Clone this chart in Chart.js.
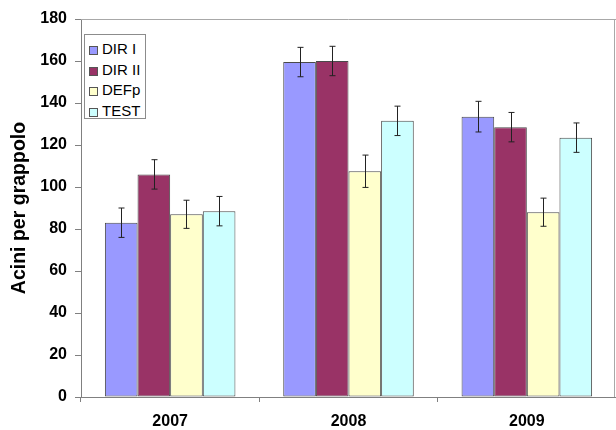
<!DOCTYPE html>
<html>
<head>
<meta charset="utf-8">
<script src="https://cdn.jsdelivr.net/npm/chart.js@4/dist/chart.umd.min.js"></script>
<style>
  body { margin: 0; background: #fff; }
  #wrap { position: relative; width: 616px; height: 430px; }
  #legend {
    position: absolute; left: 84px; top: 34px; width: 62px; height: 85px;
    border: 1px solid #8c8c8c; background: #fff;
    font: 15px "Liberation Sans", Arial, sans-serif; color: #000;
    padding-top: 4px; box-sizing: border-box;
  }
  .item { height: 20.5px; line-height: 20.5px; white-space: nowrap; }
  .sw { display: inline-block; width: 9px; height: 9px; margin: 0 4px 0 4px;
        border: 1px solid #555; vertical-align: -1px; box-sizing: border-box; }
</style>
</head>
<body>
<div id="wrap">
  <canvas id="barChart" width="616" height="430"></canvas>
  <div id="legend"></div>
</div>
<script>
// data
const years = ['2007', '2008', '2009'];
const seriesNames = ['DIR I', 'DIR II', 'DEFp', 'TEST'];
const dirI   = [83, 159.5, 133.5];
const dirII  = [106, 160, 128.5];
const defp   = [87, 107.5, 88];
const test   = [88.5, 131.5, 123.5];
const errDirI  = [7, 7, 7.3];
const errDirII = [7, 7, 7];
const errDefp  = [6.7, 7.7, 6.7];
const errTest  = [7, 7, 7];
const yTicks = [0, 20, 40, 60, 80, 100, 120, 140, 160, 180];

const colors = ['#9999ff', '#993366', '#ffffcc', '#ccffff'];
const values = [dirI, dirII, defp, test];
const errors = [errDirI, errDirII, errDefp, errTest];

const fontFam = '"Liberation Sans", Arial, sans-serif';

// error bars drawn from the y scale
const errorBars = {
  id: 'errorBars',
  afterDatasetsDraw(chart) {
    const ctx = chart.ctx;
    const y = chart.scales.y;
    ctx.save();
    ctx.strokeStyle = '#222';
    ctx.lineWidth = 1;
    chart.data.datasets.forEach((ds, i) => {
      const meta = chart.getDatasetMeta(i);
      meta.data.forEach((bar, j) => {
        const v = ds.data[j], e = errors[i][j];
        const x = Math.round(bar.x) + 0.5;
        const top = y.getPixelForValue(v + e);
        const bot = y.getPixelForValue(v - e);
        ctx.beginPath();
        ctx.moveTo(x, top); ctx.lineTo(x, bot);
        ctx.moveTo(x - 3, top); ctx.lineTo(x + 3, top);
        ctx.moveTo(x - 3, bot); ctx.lineTo(x + 3, bot);
        ctx.stroke();
      });
    });
    ctx.restore();
  }
};

// plot frame (top and right edge)
const frame = {
  id: 'frame',
  afterDraw(chart) {
    const {ctx, chartArea: a} = chart;
    ctx.save();
    ctx.lineWidth = 1;
    ctx.strokeStyle = '#a8a8a8';
    ctx.beginPath();
    ctx.moveTo(a.left, a.top + 0.5); ctx.lineTo(a.right, a.top + 0.5);
    ctx.moveTo(a.right - 1.5, a.top); ctx.lineTo(a.right - 1.5, a.bottom);
    ctx.stroke();
    ctx.restore();
  }
};

new Chart(document.getElementById('barChart'), {
  type: 'bar',
  data: {
    labels: years,
    datasets: seriesNames.map((name, i) => ({
      label: name,
      data: values[i],
      backgroundColor: colors[i],
      borderColor: '#4a4a4a',
      borderWidth: 1,
      borderSkipped: false
    }))
  },
  options: {
    responsive: false,
    animation: false,
    layout: { padding: { top: 19, right: 0, left: 0, bottom: 0 } },
    categoryPercentage: 0.732,
    barPercentage: 1,
    plugins: { legend: { display: false }, tooltip: { enabled: false } },
    scales: {
      x: {
        afterFit: (s) => { s.height = 33; },
        grid: {
          offset: true,
          drawOnChartArea: false,
          tickLength: 5,
          color: (c) => (c.index === undefined ? 'rgba(0,0,0,0)' : '#808080')
        },
        border: { color: '#808080' },
        ticks: { color: '#000', padding: 10, font: { family: fontFam, size: 16, weight: 'bold' } }
      },
      y: {
        min: 0, max: 180,
        afterFit: (s) => { s.width = 81; },
        afterBuildTicks: (s) => { s.ticks = yTicks.map(v => ({ value: v })); },
        grid: { drawOnChartArea: false, tickLength: 6, color: '#808080' },
        border: { color: '#808080' },
        ticks: { color: '#000', padding: 8, font: { family: fontFam, size: 16, weight: 'bold' } },
        title: {
          display: true,
          text: 'Acini per grappolo',
          color: '#000',
          padding: { top: 8, bottom: 0 },
          font: { family: fontFam, size: 19.5, weight: 'bold' }
        }
      }
    }
  },
  plugins: [errorBars, frame]
});

// legend box inside the plot, built from the series
const leg = document.getElementById('legend');
seriesNames.forEach((name, i) => {
  const row = document.createElement('div');
  row.className = 'item';
  const sw = document.createElement('span');
  sw.className = 'sw';
  sw.style.background = colors[i];
  row.appendChild(sw);
  row.appendChild(document.createTextNode(name));
  leg.appendChild(row);
});
</script>
</body>
</html>
